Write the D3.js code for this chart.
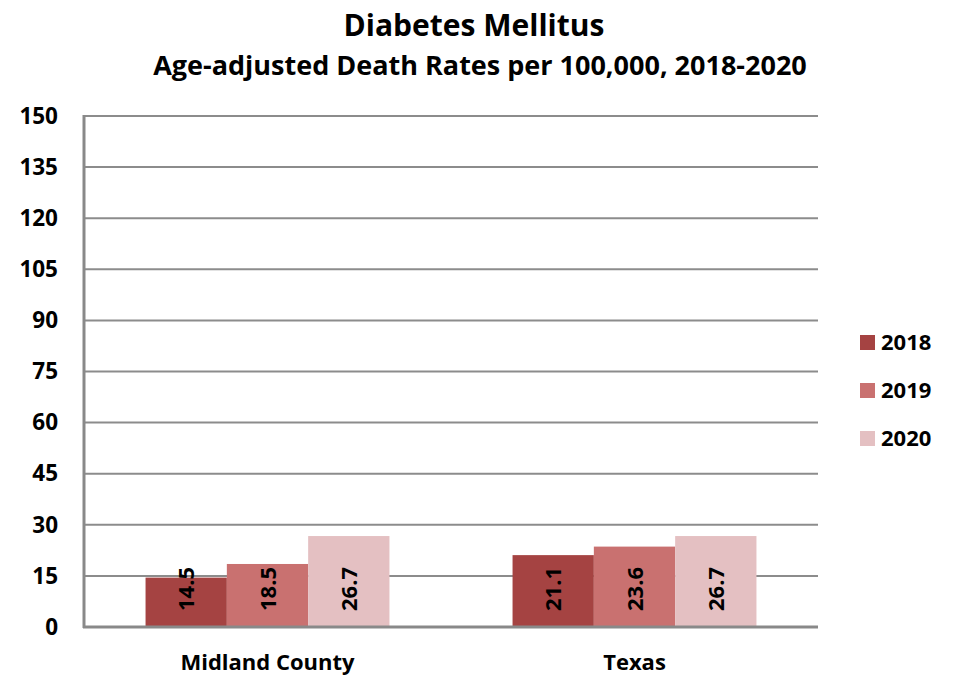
<!DOCTYPE html>
<html>
<head>
<meta charset="utf-8">
<script src="https://cdn.jsdelivr.net/npm/d3@7"></script>
<style>
  body { margin: 0; background: #fff; }
  svg { display: block; font-family: "Open Sans", sans-serif; font-weight: bold; }
</style>
</head>
<body>
<svg id="chart" width="954" height="676"></svg>
<script>
const categories = ["Midland County", "Texas"];
const seriesNames = ["2018", "2019", "2020"];
const values2018 = [14.5, 21.1];
const values2019 = [18.5, 23.6];
const values2020 = [26.7, 26.7];
const yTicks = [0, 15, 30, 45, 60, 75, 90, 105, 120, 135, 150];
const colors = ["#a54342", "#c97170", "#e4c0c2"];

const seriesValues = [values2018, values2019, values2020];
const svg = d3.select("#chart");
const pLeft = 84, pRight = 818, pTop = 116, pBottom = 627;

const x = d3.scaleBand().domain(categories).range([pLeft, pRight]).paddingInner(0).paddingOuter(0);
const xs = d3.scaleBand().domain(seriesNames).range([0, x.bandwidth()]).paddingOuter(0.757).paddingInner(0);
const y = d3.scaleLinear().domain([0, 150]).range([pBottom, pTop]);

// gridlines
svg.append("g").selectAll("line").data(yTicks.filter(d => d > 0)).join("line")
  .attr("x1", pLeft).attr("x2", pRight)
  .attr("y1", d => y(d)).attr("y2", d => y(d))
  .attr("stroke", "#8c8c8c").attr("stroke-width", 2);

// y axis
const yAxis = d3.axisLeft(y).tickValues(yTicks).tickSize(0).tickPadding(0);
const gy = svg.append("g").attr("transform", `translate(${pLeft},0)`).call(yAxis);
gy.select(".domain").remove();
gy.selectAll("text").attr("x", -26).attr("text-anchor", "end")
  .attr("font-size", 22.5).attr("font-family", "Open Sans").attr("font-weight", "bold").attr("fill", "#000");

// bars
const groups = svg.append("g").selectAll("g").data(categories).join("g")
  .attr("transform", d => `translate(${x(d)},0)`);
seriesNames.forEach((s, si) => {
  groups.append("rect")
    .attr("x", xs(s)).attr("width", xs.bandwidth())
    .attr("y", (d, ci) => y(seriesValues[si][ci]))
    .attr("height", (d, ci) => y(0) - y(seriesValues[si][ci]))
    .attr("fill", colors[si]);
});
// labels
seriesNames.forEach((s, si) => {
  groups.append("text")
    .attr("transform", (d, ci) => `translate(${xs(s) + xs.bandwidth() / 2 + 8},${y(0) - 16}) rotate(-90)`)
    .attr("text-anchor", "start")
    .attr("font-size", 22).attr("fill", "#000")
    .text((d, ci) => seriesValues[si][ci].toFixed(1));
});

// axes lines
svg.append("line").attr("x1", pLeft).attr("x2", pLeft).attr("y1", pTop - 1).attr("y2", pBottom + 1)
  .attr("stroke", "#898989").attr("stroke-width", 3);
svg.append("line").attr("x1", pLeft - 1).attr("x2", pRight).attr("y1", pBottom).attr("y2", pBottom)
  .attr("stroke", "#898989").attr("stroke-width", 3);

// x axis labels
const xAxis = d3.axisBottom(x).tickSize(0).tickPadding(0);
const gx = svg.append("g").attr("transform", `translate(0,${pBottom})`).call(xAxis);
gx.select(".domain").remove();
gx.selectAll("text").attr("y", 43).attr("dy", 0)
  .attr("font-size", 22).attr("font-family", "Open Sans").attr("font-weight", "bold").attr("fill", "#000");

// titles
svg.append("text").attr("x", 474).attr("y", 36).attr("text-anchor", "middle")
  .attr("font-size", 30).text("Diabetes Mellitus");
svg.append("text").attr("x", 480).attr("y", 75).attr("text-anchor", "middle")
  .attr("font-size", 27).text("Age-adjusted Death Rates per 100,000, 2018-2020");

// legend
const lg = svg.append("g").selectAll("g").data(seriesNames).join("g")
  .attr("transform", (d, i) => `translate(860,${335 + i * 48})`);
lg.append("rect").attr("width", 15).attr("height", 15).attr("fill", (d, i) => colors[i]);
lg.append("text").attr("x", 21).attr("y", 15).attr("font-size", 22).attr("fill", "#000").text(d => d);
</script>
</body>
</html>
